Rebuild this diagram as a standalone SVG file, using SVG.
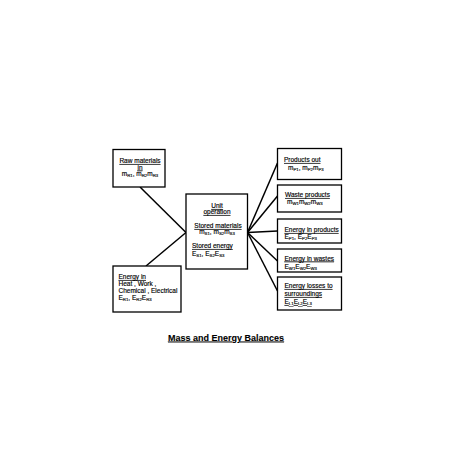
<svg xmlns="http://www.w3.org/2000/svg" width="453" height="453" viewBox="0 0 453 453">
<style>
.box{fill:#fff;stroke:#000;stroke-width:1.3}
.ln{stroke:#000;stroke-width:1.5;fill:none}
text{font-family:"Liberation Sans",Arial,sans-serif;font-size:6.5px;fill:#000;stroke:#000;stroke-width:0.15}
.u{text-decoration:underline}
.s{font-size:4.3px}
.c{text-anchor:middle}
.title{font-size:9px;font-weight:bold;text-decoration:underline;stroke-width:0.1}
</style>
<rect width="453" height="453" fill="#fff"/>
<g id="connectors">
<line class="ln" x1="140" y1="187" x2="186" y2="232.5"/>
<line class="ln" x1="146" y1="266" x2="186" y2="232.5"/>
<line class="ln" x1="247.5" y1="232.5" x2="277.5" y2="163"/>
<line class="ln" x1="247.5" y1="232.5" x2="277.5" y2="196"/>
<line class="ln" x1="247.5" y1="232.5" x2="277.5" y2="231"/>
<line class="ln" x1="247.5" y1="232.5" x2="277.5" y2="261"/>
<line class="ln" x1="247.5" y1="232.5" x2="277.5" y2="291"/>
</g>
<g id="raw">
<rect class="box" x="113" y="149.5" width="52" height="37.5"/>
<text class="c u" x="140" y="163">Raw materials</text>
<text class="c u" x="140" y="169.5">in</text>
<text class="c" x="140" y="176">m<tspan class="s" dy="1.2">R1</tspan><tspan dy="-1.2">, m</tspan><tspan class="s" dy="1.2">R2</tspan><tspan dy="-1.2">m</tspan><tspan class="s" dy="1.2">R3</tspan></text>
</g>
<g id="energyin">
<rect class="box" x="113" y="266" width="68" height="46"/>
<text class="u" x="118.5" y="279">Energy in</text>
<text x="118.5" y="286">Heat , Work ,</text>
<text x="118.5" y="293">Chemical , Electrical</text>
<text x="118.5" y="300">E<tspan class="s" dy="1.2">R1</tspan><tspan dy="-1.2">, E</tspan><tspan class="s" dy="1.2">R2</tspan><tspan dy="-1.2">E</tspan><tspan class="s" dy="1.2">R3</tspan></text>
</g>
<g id="unit">
<rect class="box" x="186" y="194" width="61.5" height="75"/>
<text class="c u" x="217" y="208">Unit</text>
<text class="c u" x="217" y="214">operation</text>
<text class="c u" x="218" y="228">Stored materials</text>
<text class="c" x="217" y="233.5">m<tspan class="s" dy="1.2">S1</tspan><tspan dy="-1.2">, m</tspan><tspan class="s" dy="1.2">S2</tspan><tspan dy="-1.2">m</tspan><tspan class="s" dy="1.2">S3</tspan></text>
<text class="u" x="192" y="248">Stored energy</text>
<text x="192" y="255.5">E<tspan class="s" dy="1.2">S1</tspan><tspan dy="-1.2">, E</tspan><tspan class="s" dy="1.2">S2</tspan><tspan dy="-1.2">E</tspan><tspan class="s" dy="1.2">S3</tspan></text>
</g>
<g id="products">
<rect class="box" x="277.5" y="148.5" width="64" height="31"/>
<text class="u" x="284" y="162">Products out</text>
<text x="288" y="169.5">m<tspan class="s" dy="1.2">P1</tspan><tspan dy="-1.2">, m</tspan><tspan class="s" dy="1.2">P2</tspan><tspan dy="-1.2">m</tspan><tspan class="s" dy="1.2">P3</tspan></text>
</g>
<g id="waste">
<rect class="box" x="277.5" y="185" width="64" height="27"/>
<text class="u" x="285" y="197">Waste products</text>
<text x="287" y="204">m<tspan class="s" dy="1.2">W1</tspan><tspan dy="-1.2">m</tspan><tspan class="s" dy="1.2">W2</tspan><tspan dy="-1.2">m</tspan><tspan class="s" dy="1.2">W3</tspan></text>
</g>
<g id="energyproducts">
<rect class="box" x="277.5" y="219" width="64" height="24"/>
<text class="u" x="284.5" y="232">Energy in products</text>
<text x="284.5" y="239">E<tspan class="s" dy="1.2">P1</tspan><tspan dy="-1.2">, E</tspan><tspan class="s" dy="1.2">P2</tspan><tspan dy="-1.2">E</tspan><tspan class="s" dy="1.2">P3</tspan></text>
</g>
<g id="energywastes">
<rect class="box" x="277.5" y="249" width="64" height="23"/>
<text class="u" x="284.5" y="260.5">Energy in wastes</text>
<text x="284.5" y="268.5">E<tspan class="s" dy="1.2">W1</tspan><tspan dy="-1.2">E</tspan><tspan class="s" dy="1.2">W2</tspan><tspan dy="-1.2">E</tspan><tspan class="s" dy="1.2">W3</tspan></text>
</g>
<g id="energylosses">
<rect class="box" x="277.5" y="277" width="64" height="33"/>
<text class="u" x="284.5" y="288">Energy losses to</text>
<text class="u" x="284.5" y="296">surroundings</text>
<text class="u" x="284.5" y="304">E<tspan class="s" dy="1.2">L1</tspan><tspan dy="-1.2">E</tspan><tspan class="s" dy="1.2">L2</tspan><tspan dy="-1.2">E</tspan><tspan class="s" dy="1.2">L3</tspan></text>
</g>
<text class="c title" x="226" y="340.5">Mass and Energy Balances</text>
</svg>
